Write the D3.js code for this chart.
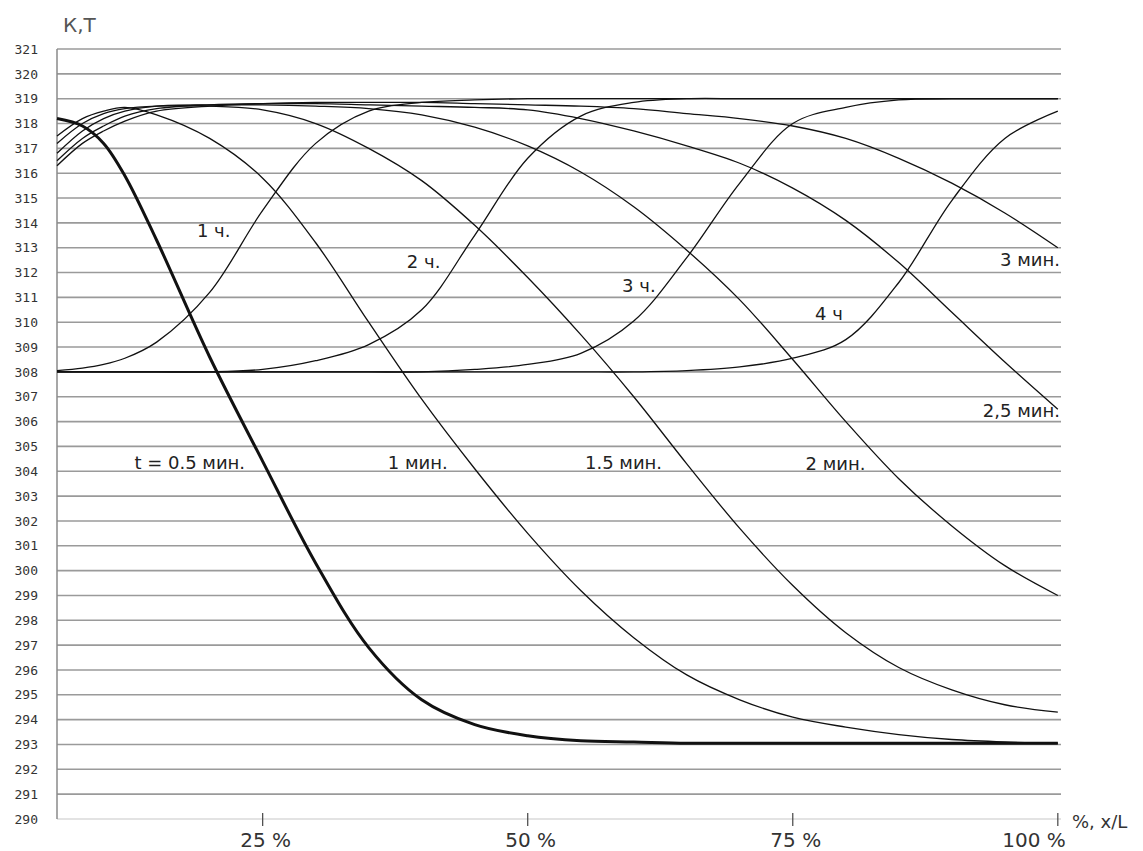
<!DOCTYPE html>
<html><head><meta charset="utf-8">
<script src="https://cdn.jsdelivr.net/npm/d3@7/dist/d3.min.js"></script>
<style>body{margin:0;background:#fff}</style>
</head><body>
<svg id="chart" width="1143" height="851"></svg>
<script>
// ---- data ----
const xPercent = [5.6, 8, 10, 12, 15, 20, 25, 30, 35, 40, 45, 50, 55, 60, 65, 70, 75, 80, 85, 90, 95, 100];

const cool05 = [318.2, 317.9, 317.2, 315.9, 313.3, 308.6, 304.4, 300.3, 296.9, 294.8, 293.8, 293.35, 293.15, 293.1, 293.05, 293.05, 293.05, 293.05, 293.05, 293.05, 293.05, 293.05];
const cool1  = [317.5, 318.2, 318.5, 318.65, 318.35, 317.4, 315.8, 313.2, 310.0, 306.9, 304.1, 301.5, 299.2, 297.3, 295.8, 294.8, 294.1, 293.7, 293.4, 293.2, 293.1, 293.05];
const cool15 = [317.2, 318.0, 318.4, 318.6, 318.7, 318.7, 318.55, 318.0, 317.0, 315.7, 313.9, 311.8, 309.5, 307.0, 304.3, 301.7, 299.4, 297.5, 296.1, 295.2, 294.6, 294.3];
const cool2  = [316.8, 317.7, 318.2, 318.5, 318.7, 318.75, 318.75, 318.7, 318.6, 318.35, 317.85, 317.1, 316.05, 314.65, 312.9, 310.9, 308.5, 306.0, 303.7, 301.8, 300.2, 299.0];
const cool25 = [316.5, 317.4, 317.9, 318.3, 318.6, 318.75, 318.8, 318.8, 318.75, 318.7, 318.65, 318.55, 318.2, 317.7, 317.1, 316.4, 315.4, 314.1, 312.4, 310.4, 308.4, 306.5];
const cool3  = [316.3, 317.2, 317.7, 318.1, 318.5, 318.7, 318.8, 318.85, 318.85, 318.85, 318.8, 318.75, 318.7, 318.6, 318.4, 318.2, 317.9, 317.4, 316.6, 315.6, 314.4, 313.0];

const heat1h = [308.05, 308.15, 308.3, 308.55, 309.2, 311.2, 314.5, 317.2, 318.5, 318.85, 318.95, 319.0, 319.0, 319.0, 319.0, 319.0, 319.0, 319.0, 319.0, 319.0, 319.0, 319.0];
const heat2h = [308.0, 308.0, 308.0, 308.0, 308.0, 308.0, 308.1, 308.45, 309.1, 310.5, 313.5, 316.6, 318.3, 318.85, 319.0, 319.0, 319.0, 319.0, 319.0, 319.0, 319.0, 319.0];
const heat3h = [308.0, 308.0, 308.0, 308.0, 308.0, 308.0, 308.0, 308.0, 308.0, 308.0, 308.1, 308.3, 308.75, 310.05, 312.6, 315.6, 318.0, 318.65, 318.95, 319.0, 319.0, 319.0];
const heat4h = [308.0, 308.0, 308.0, 308.0, 308.0, 308.0, 308.0, 308.0, 308.0, 308.0, 308.0, 308.0, 308.0, 308.0, 308.05, 308.2, 308.55, 309.3, 311.6, 314.9, 317.4, 318.5];

const yTickValues = d3.range(290, 322);
const xTickValues = [25, 50, 75, 100];
const xTickLabels = ["25 %", "50 %", "75 %", "100 %"];

const seriesNames = ["t = 0.5 мин.", "1 мин.", "1.5 мин.", "2 мин.", "2,5 мин.", "3 мин.", "1 ч.", "2 ч.", "3 ч.", "4 ч"];
const seriesValues = [cool05, cool1, cool15, cool2, cool25, cool3, heat1h, heat2h, heat3h, heat4h];

// label anchor points (data units) – annotation layout
const labelAt = [
  {p: 12.9, v: 304.1, anchor: "start"},
  {p: 36.8, v: 304.1, anchor: "start"},
  {p: 55.4, v: 304.1, anchor: "start"},
  {p: 76.2, v: 304.05, anchor: "start"},
  {p: 100.2, v: 306.2, anchor: "end"},
  {p: 100.2, v: 312.25, anchor: "end"},
  {p: 18.8, v: 313.45, anchor: "start"},
  {p: 38.6, v: 312.2, anchor: "start"},
  {p: 58.9, v: 311.2, anchor: "start"},
  {p: 77.1, v: 310.1, anchor: "start"}
];

// ---- layout ----
const svg = d3.select("#chart");
const x = d3.scaleLinear().domain([5.6, 100.3]).range([57, 1061]);
const y = d3.scaleLinear().domain([290, 321]).range([819, 49]);

// grid
svg.append("g").selectAll("line").data(yTickValues).join("line")
  .attr("x1", x(5.6)).attr("x2", x(100.3))
  .attr("y1", d => y(d)).attr("y2", d => y(d))
  .attr("stroke", d => d === 290 ? "#c8c8c8" : "#9a9a9a")
  .attr("stroke-width", d => d === 290 ? 1.2 : 1.6);

// left axis line
svg.append("line").attr("x1", x(5.6)).attr("x2", x(5.6)).attr("y1", y(321)).attr("y2", y(290))
  .attr("stroke", "#8a8a8a").attr("stroke-width", 1.5);

// y labels
const yAxis = d3.axisLeft(y).tickValues(yTickValues).tickSize(0).tickPadding(0).tickFormat(d3.format("d"));
const ya = svg.append("g").attr("transform", "translate(38,0)").call(yAxis);
ya.select(".domain").remove();
ya.selectAll("text").attr("font-family", "DejaVu Sans Mono").attr("font-size", 13).attr("fill", "#333");

// x ticks
const xAxis = d3.axisBottom(x).tickValues(xTickValues).tickSize(0).tickFormat("");
const xa = svg.append("g").attr("transform", `translate(0,${y(290)})`).call(xAxis);
xa.select(".domain").remove();
svg.append("g").selectAll("line").data(xTickValues).join("line")
  .attr("x1", d => x(d)).attr("x2", d => x(d))
  .attr("y1", y(290) - 6).attr("y2", y(290) + 7)
  .attr("stroke", "#444").attr("stroke-width", 1.2);
svg.append("g").selectAll("text").data(xTickValues).join("text")
  .attr("x", (d, i) => i === xTickValues.length - 1 ? x(d) + 8 : x(d) + 3)
  .attr("y", 847)
  .attr("text-anchor", (d, i) => i === xTickValues.length - 1 ? "end" : "middle")
  .attr("font-family", "DejaVu Sans").attr("font-size", 20).attr("fill", "#333")
  .text((d, i) => xTickLabels[i]);

svg.append("text").attr("x", 1072).attr("y", 828)
  .attr("font-family", "DejaVu Sans").attr("font-size", 18).attr("fill", "#333")
  .text("%, x/L");

svg.append("text").attr("x", 63).attr("y", 32)
  .attr("font-family", "DejaVu Sans").attr("font-size", 20).attr("fill", "#555")
  .text("К,Т");

// curves
const line = d3.line().x(d => x(d[0])).y(d => y(d[1])).curve(d3.curveCatmullRom.alpha(0.5));
svg.append("g").selectAll("path").data(seriesValues).join("path")
  .attr("d", vals => line(vals.map((v, i) => [xPercent[i], v])))
  .attr("fill", "none")
  .attr("stroke", "#111")
  .attr("stroke-width", (d, i) => i === 0 ? 3 : 1.3)
  .attr("stroke-linejoin", "round");

// labels
svg.append("g").selectAll("text").data(seriesNames).join("text")
  .attr("x", (d, i) => x(labelAt[i].p))
  .attr("y", (d, i) => y(labelAt[i].v))
  .attr("text-anchor", (d, i) => labelAt[i].anchor)
  .attr("font-family", "DejaVu Sans").attr("font-size", 18).attr("fill", "#222")
  .text(d => d);
</script>
</body></html>
